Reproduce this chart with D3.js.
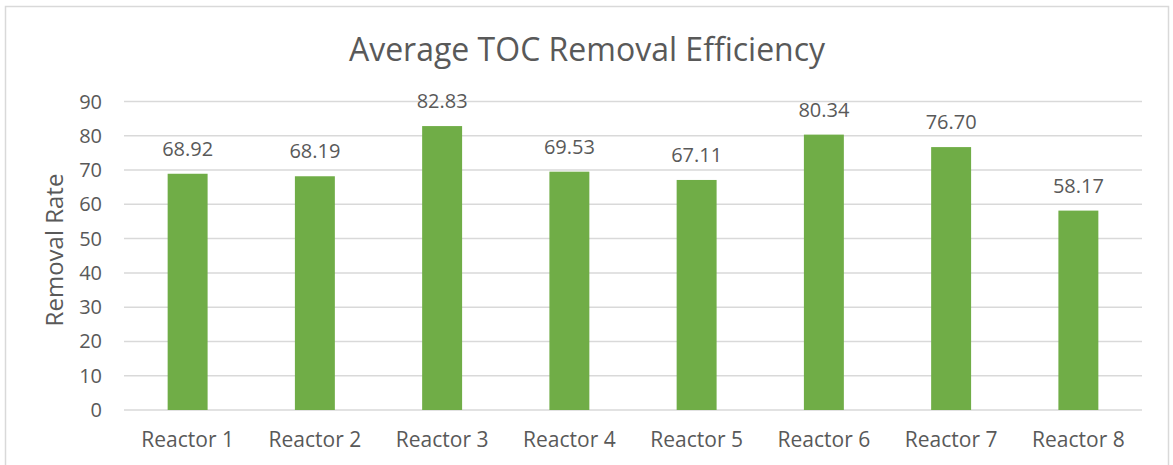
<!DOCTYPE html>
<html>
<head>
<meta charset="utf-8">
<script src="https://cdn.jsdelivr.net/npm/d3@7"></script>
<style>
  body { margin: 0; background: #fff; }
  text { font-family: "Open Sans", "Noto Sans", sans-serif; fill: #595959; }
</style>
</head>
<body>
<div id="chart"></div>
<script>
var categories = ["Reactor 1", "Reactor 2", "Reactor 3", "Reactor 4", "Reactor 5", "Reactor 6", "Reactor 7", "Reactor 8"];
var values = [68.92, 68.19, 82.83, 69.53, 67.11, 80.34, 76.70, 58.17];
var yTicks = [0, 10, 20, 30, 40, 50, 60, 70, 80, 90];

let W = 1173, H = 465;
let margin = {left: 124, right: 31, top: 101.5, bottom: 55};

let svg = d3.select("#chart").append("svg")
    .attr("width", W)
    .attr("height", H);

// chart border
svg.append("rect")
    .attr("x", 5.5).attr("y", 6.5)
    .attr("width", 1163).attr("height", 470)
    .attr("fill", "none")
    .attr("stroke", "#d9d9d9")
    .attr("stroke-width", 1.5);

let x = d3.scaleBand()
    .domain(categories)
    .range([margin.left, W - margin.right])
    .paddingInner(0.686)
    .paddingOuter(0.343);

let y = d3.scaleLinear()
    .domain([0, 90])
    .range([410, margin.top]);

// gridlines
svg.append("g")
    .selectAll("line")
    .data(yTicks)
    .join("line")
    .attr("x1", margin.left)
    .attr("x2", W - margin.right)
    .attr("y1", d => y(d))
    .attr("y2", d => y(d))
    .attr("stroke", "#d9d9d9")
    .attr("stroke-width", 1.5);

// y tick labels
svg.append("g")
    .selectAll("text")
    .data(yTicks)
    .join("text")
    .attr("x", 102)
    .attr("y", d => y(d))
    .attr("dy", "0.35em")
    .attr("text-anchor", "end")
    .attr("font-size", 20)
    .text(d => d);

// bars
svg.append("g")
    .selectAll("rect")
    .data(values)
    .join("rect")
    .attr("x", (d, i) => x(categories[i]))
    .attr("width", x.bandwidth())
    .attr("y", d => y(d))
    .attr("height", d => y(0) - y(d))
    .attr("fill", "#70ad47");

// value labels
svg.append("g")
    .selectAll("text")
    .data(values)
    .join("text")
    .attr("x", (d, i) => x(categories[i]) + x.bandwidth() / 2)
    .attr("y", d => y(d) - 18)
    .attr("text-anchor", "middle")
    .attr("font-size", 20)
    .text(d => d.toFixed(2));

// category labels
svg.append("g")
    .selectAll("text")
    .data(categories)
    .join("text")
    .attr("x", d => x(d) + x.bandwidth() / 2)
    .attr("y", 440)
    .attr("dy", "0.35em")
    .attr("text-anchor", "middle")
    .attr("font-size", 21)
    .text(d => d);

// title
svg.append("text")
    .attr("x", 587)
    .attr("y", 50)
    .attr("dy", "0.35em")
    .attr("text-anchor", "middle")
    .attr("font-size", 32)
    .text("Average TOC Removal Efficiency");

// y axis title
svg.append("text")
    .attr("transform", "translate(55,250) rotate(-90)")
    .attr("dy", "0.35em")
    .attr("text-anchor", "middle")
    .attr("font-size", 24)
    .text("Removal Rate");
</script>
</body>
</html>
